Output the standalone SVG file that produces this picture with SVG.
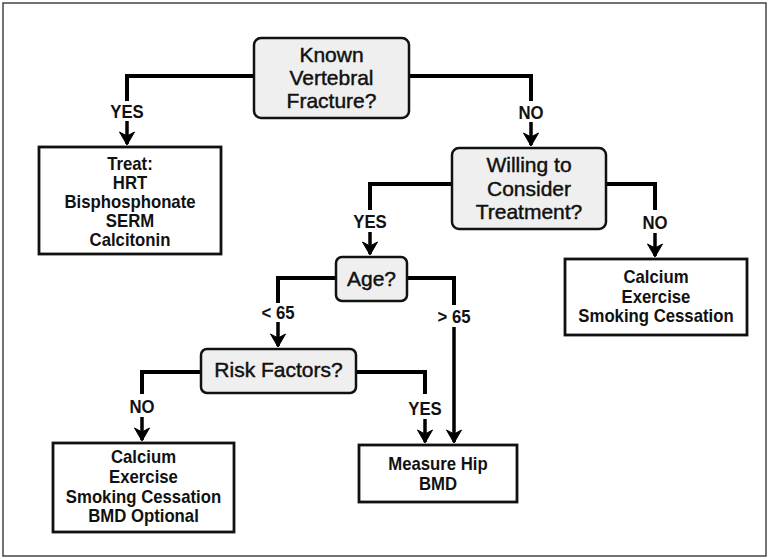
<svg xmlns="http://www.w3.org/2000/svg" width="771" height="559" viewBox="0 0 771 559">
  <style>
    .q { fill: #efefef; stroke: #111; stroke-width: 2.5; }
    .a { fill: #fff; stroke: #111; stroke-width: 2.8; }
    .qt { font-family: "Liberation Sans", Arial, sans-serif; font-size: 21px; fill: #111; stroke: #111; stroke-width: 0.45; text-anchor: middle; }
    .at { font-family: "Liberation Sans", Arial, sans-serif; font-size: 18px; font-weight: bold; fill: #111; text-anchor: middle; }
    .lbl { font-family: "Liberation Sans", Arial, sans-serif; font-size: 18px; font-weight: bold; fill: #111; text-anchor: middle; }
    .ln { fill: none; stroke: #000; stroke-width: 4; stroke-linejoin: miter; }
    .ar { fill: none; stroke: #000; stroke-width: 3.5; marker-end: url(#barb); }
  </style>
  <defs>
    <!-- notched arrowhead, drawn pointing along +x -->
    <marker id="barb" viewBox="-16 -10 20 20" refX="0" refY="0" markerWidth="20" markerHeight="20" markerUnits="userSpaceOnUse" orient="auto">
      <path d="M1,0 L-12,-7.5 L-8,0 L-12,7.5 Z" fill="#000" stroke="#000" stroke-width="1" stroke-linejoin="round"/>
    </marker>
  </defs>

  <rect x="3" y="3" width="763" height="553" fill="#fff" stroke="#444" stroke-width="1.5"/>

  <!-- connectors; condensed labels use matrix(0.93 0 0 1 0.07*cx 0) around their centre x -->
  <g id="connectors">
    <!-- Known Vertebral Fracture? -->
    <polyline class="ln" points="254,76 127,76 127,101"/>
    <line class="ar" x1="127" y1="121" x2="127" y2="144"/>
    <text class="lbl" x="127" y="118" transform="matrix(0.93 0 0 1 8.89 0)">YES</text>
    <polyline class="ln" points="409,76 531,76 531,101"/>
    <line class="ar" x1="531" y1="122" x2="531" y2="145"/>
    <text class="lbl" x="531" y="119" transform="matrix(0.93 0 0 1 37.17 0)">NO</text>

    <!-- Willing to Consider Treatment? -->
    <polyline class="ln" points="452,184 370,184 370,210"/>
    <line class="ar" x1="370" y1="232" x2="370" y2="254"/>
    <text class="lbl" x="370" y="228" transform="matrix(0.93 0 0 1 25.9 0)">YES</text>
    <polyline class="ln" points="606,184 655,184 655,210"/>
    <line class="ar" x1="655" y1="233" x2="655" y2="256"/>
    <text class="lbl" x="655" y="229" transform="matrix(0.93 0 0 1 45.85 0)">NO</text>

    <!-- Age? -->
    <polyline class="ln" points="336,278 278,278 278,303"/>
    <line class="ar" x1="278" y1="322" x2="278" y2="346"/>
    <text class="lbl" x="278" y="319" transform="matrix(0.93 0 0 1 19.46 0)">&lt; 65</text>
    <polyline class="ln" points="407,278 454,278 454,305"/>
    <line class="ar" x1="454" y1="327" x2="454" y2="442"/>
    <text class="lbl" x="454" y="323" transform="matrix(0.93 0 0 1 31.78 0)">&gt; 65</text>

    <!-- Risk Factors? -->
    <polyline class="ln" points="201,372 142,372 142,394"/>
    <line class="ar" x1="142" y1="417" x2="142" y2="440"/>
    <text class="lbl" x="142" y="413" transform="matrix(0.93 0 0 1 9.94 0)">NO</text>
    <polyline class="ln" points="356,372 425,372 425,394"/>
    <line class="ar" x1="425" y1="419" x2="425" y2="442"/>
    <text class="lbl" x="425" y="415" transform="matrix(0.93 0 0 1 29.75 0)">YES</text>
  </g>

  <g id="known-fracture">
    <rect class="q" x="254" y="38" width="155" height="80" rx="7"/>
    <text class="qt" x="331.5" y="62">Known</text>
    <text class="qt" x="331.5" y="85">Vertebral</text>
    <text class="qt" x="331.5" y="108">Fracture?</text>
  </g>

  <g id="treat">
    <rect class="a" x="39" y="147" width="182" height="107"/>
    <g transform="matrix(0.93 0 0 1 9.1 0)">
      <text class="at" x="130" y="170">Treat:</text>
      <text class="at" x="130" y="189">HRT</text>
      <text class="at" x="130" y="208">Bisphosphonate</text>
      <text class="at" x="130" y="227">SERM</text>
      <text class="at" x="130" y="246">Calcitonin</text>
    </g>
  </g>

  <g id="willing-treatment">
    <rect class="q" x="452" y="148" width="154" height="81" rx="7"/>
    <text class="qt" x="529" y="172">Willing to</text>
    <text class="qt" x="529" y="196">Consider</text>
    <text class="qt" x="529" y="219">Treatment?</text>
  </g>

  <g id="lifestyle-right">
    <rect class="a" x="565" y="259" width="182" height="76"/>
    <g transform="matrix(0.93 0 0 1 45.92 0)">
      <text class="at" x="656" y="283">Calcium</text>
      <text class="at" x="656" y="303">Exercise</text>
      <text class="at" x="656" y="322">Smoking Cessation</text>
    </g>
  </g>

  <g id="age">
    <rect class="q" x="336" y="257" width="71" height="44" rx="6"/>
    <text class="qt" x="371.5" y="286">Age?</text>
  </g>

  <g id="risk-factors">
    <rect class="q" x="201" y="349" width="155" height="44" rx="6"/>
    <text class="qt" x="278.5" y="377">Risk Factors?</text>
  </g>

  <g id="lifestyle-left">
    <rect class="a" x="53" y="443" width="181" height="89"/>
    <g transform="matrix(0.93 0 0 1 10.05 0)">
      <text class="at" x="143.5" y="463">Calcium</text>
      <text class="at" x="143.5" y="483">Exercise</text>
      <text class="at" x="143.5" y="503">Smoking Cessation</text>
      <text class="at" x="143.5" y="522">BMD Optional</text>
    </g>
  </g>

  <g id="measure-hip">
    <rect class="a" x="359" y="445" width="158" height="57"/>
    <g transform="matrix(0.93 0 0 1 30.66 0)">
      <text class="at" x="438" y="470">Measure Hip</text>
      <text class="at" x="438" y="490">BMD</text>
    </g>
  </g>
</svg>
